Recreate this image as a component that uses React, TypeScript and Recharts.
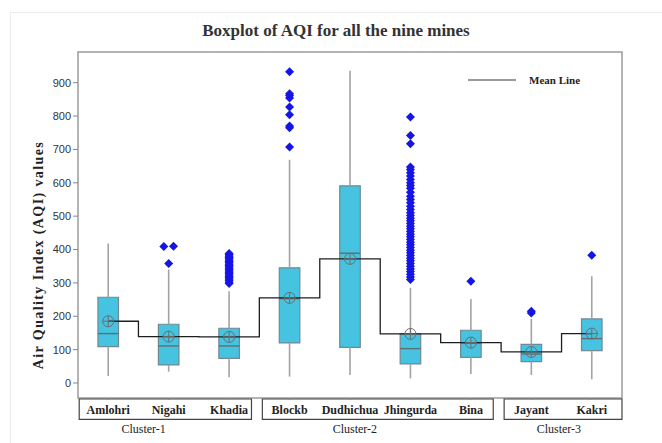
import React from 'react';
import {
  ComposedChart, XAxis, YAxis, Line, Scatter, ReferenceArea, ReferenceLine, Label,
} from 'recharts';

const mines = ['Amlohri', 'Nigahi', 'Khadia', 'Blockb', 'Dudhichua', 'Jhingurda', 'Bina', 'Jayant', 'Kakri'];
const whiskerLow = [21, 34, 17, 19, 24, 14, 27, 24, 11];
const q1 = [109, 54, 74, 120, 107, 57, 77, 64, 97];
const median = [148, 111, 111, 253, 389, 103, 120, 87, 133];
const q3 = [257, 176, 164, 345, 591, 148, 158, 116, 192];
const whiskerHigh = [418, 340, 275, 669, 936, 285, 252, 192, 320];
const meanAqi = [185, 139, 138, 255, 372, 147, 121, 93, 148];

// outliers per mine (same order as mines)
const outliers: number[][] = [
  [],
  [358, 409, 410],
  [298, 303, 308, 312, 316, 320, 324, 328, 332, 336, 340, 344, 348, 352, 356, 360, 364, 368, 372, 376, 380, 384, 388],
  [707, 765, 770, 804, 827, 854, 862, 867, 933],
  [],
  [310, 318, 326, 334, 342, 350, 358, 366, 374, 382, 390, 398, 406, 414, 422, 430, 438, 446, 454, 462, 470,
    478, 486, 494, 502, 510, 520, 530, 540, 550, 560, 572, 584, 592, 600, 610, 620, 630, 640, 647, 717, 742, 797],
  [305],
  [210, 215],
  [383],
];

const clusters = [
  { name: 'Cluster-1', start: 0, end: 3 },
  { name: 'Cluster-2', start: 3, end: 7 },
  { name: 'Cluster-3', start: 7, end: 9 },
];

const yTicks = [0, 100, 200, 300, 400, 500, 600, 700, 800, 900];

const SERIF = '"Liberation Serif", "Times New Roman", serif';
const SANS = '"Liberation Sans", Arial, sans-serif';
const HALF = 0.17;
const BOX_FILL = '#45c3e0';
const BOX_STROKE = '#6f8a94';
const WHISKER = '#a3a3a3';

const xPos = mines.map((_, i) => i + 0.5);
const meanRows = mines.map((m, i) => ({ x: xPos[i], y: meanAqi[i], name: m }));
const outlierRows = outliers.flatMap((vals, i) =>
  vals.map((v, k) => {
    // dodge near-duplicate values sideways
    const dup = vals.findIndex((w, j) => j !== k && Math.abs(w - v) < 3);
    const dx = dup < 0 ? 0 : (k < dup ? -0.08 : 0.08);
    return { x: xPos[i] + dx, y: v };
  })
);
// label centre shifts for the cluster captions (x units)
const clusterLabelShift = [-0.36, -0.38, -0.07];

const MeanMarker = (props: any) => {
  const { cx, cy } = props;
  if (cx == null || cy == null) return null;
  const r = 5.5;
  return (
    <g stroke="#6e6e6e" strokeWidth={1} fill="none">
      <circle cx={cx} cy={cy} r={r} />
      <line x1={cx - r} y1={cy} x2={cx + r} y2={cy} />
      <line x1={cx} y1={cy - r} x2={cx} y2={cy + r} />
    </g>
  );
};

const Diamond = (props: any) => {
  const { cx, cy } = props;
  if (cx == null || cy == null) return null;
  const s = 4.5;
  return <polygon points={`${cx},${cy - s} ${cx + s},${cy} ${cx},${cy + s} ${cx - s},${cy}`} fill="#1515e6" />;
};

const App: React.FC = () => {
  return (
    <div style={{ position: 'absolute', left: 0, top: 0, width: 662, height: 443, background: '#fff', overflow: 'hidden' }}>
      <div style={{ position: 'absolute', left: 10, top: 12, width: 700, height: 500, borderTop: '1.5px solid #ececec', borderLeft: '1.5px solid #ececec' }} />
      <div style={{ position: 'absolute', left: 0, top: 21, width: 672, textAlign: 'center', fontFamily: SERIF, fontWeight: 700, fontSize: 17, color: '#333' }}>
        Boxplot of AQI for all the nine mines
      </div>
      <ComposedChart width={662} height={443} margin={{ top: 52, right: 40, bottom: 0, left: 38 }} style={{ position: 'absolute', left: 0, top: 0 }}>
        <XAxis
          type="number"
          dataKey="x"
          domain={[0, 9]}
          allowDataOverflow
          ticks={xPos}
          interval={0}
          tickFormatter={(v: number) => mines[Math.round(v - 0.5)]}
          height={45}
          axisLine={false}
          tickLine={{ stroke: '#888' }}
          tickSize={2}
          tickMargin={5}
          tick={{ fontFamily: SERIF, fontWeight: 700, fontSize: 12, fill: '#222' }}
        />
        <YAxis
          type="number"
          domain={[-45, 992]}
          allowDataOverflow
          ticks={yTicks}
          width={40}
          axisLine={false}
          tickLine={{ stroke: '#888' }}
          tickSize={5}
          tickMargin={2}
          tick={{ fontFamily: SANS, fontSize: 11, fill: '#333' }}
        >
          <Label
            content={(p: any) => {
              const vb = p.viewBox || {};
              const cx = vb.x;
              const cy = vb.y + vb.height / 2 + 30;
              return (
                <text x={cx} y={cy} transform={`rotate(-90 ${cx} ${cy})`} textAnchor="middle" dominantBaseline="central"
                  style={{ fontFamily: SERIF, fontWeight: 700, fontSize: 14, letterSpacing: 1.4, fill: '#222' }}>
                  Air Quality Index (AQI) values
                </text>
              );
            }}
          />
        </YAxis>

        {/* plot frame */}
        <ReferenceArea x1={0} x2={9} y1={-45} y2={992} fill="none" stroke="#9c9c9c" strokeWidth={1.5} ifOverflow="visible" />

        {/* cluster boxes under the axis */}
        {clusters.map((c, i) => (
          <ReferenceArea
            key={c.name}
            x1={c.start === 0 ? 0.02 : c.start + 0.05}
            x2={c.end === mines.length ? mines.length : c.end - 0.13}
            y1={-48}
            y2={-109}
            fill="none"
            stroke="#444"
            strokeWidth={1.2}
            ifOverflow="visible"
            label={{ value: c.name, position: 'bottom', offset: 5, dx: clusterLabelShift[i] * 60.4, style: { fontFamily: SERIF, fontSize: 12, fill: '#222' } } as any}
          />
        ))}

        {/* whiskers */}
        {mines.map((m, i) => (
          <ReferenceLine key={`wl-${m}`} segment={[{ x: xPos[i], y: whiskerLow[i] }, { x: xPos[i], y: q1[i] }]} stroke={WHISKER} strokeWidth={1.6} ifOverflow="visible" />
        ))}
        {mines.map((m, i) => (
          <ReferenceLine key={`wh-${m}`} segment={[{ x: xPos[i], y: q3[i] }, { x: xPos[i], y: whiskerHigh[i] }]} stroke={WHISKER} strokeWidth={1.6} ifOverflow="visible" />
        ))}

        {/* boxes */}
        {mines.map((m, i) => (
          <ReferenceArea key={`box-${m}`} x1={xPos[i] - HALF} x2={xPos[i] + HALF} y1={q1[i]} y2={q3[i]} fill={BOX_FILL} fillOpacity={1} stroke={BOX_STROKE} strokeWidth={1.2} ifOverflow="visible" />
        ))}

        {/* medians */}
        {mines.map((m, i) => (
          <ReferenceLine key={`med-${m}`} segment={[{ x: xPos[i] - HALF, y: median[i] }, { x: xPos[i] + HALF, y: median[i] }]} stroke="#5f6f75" strokeWidth={1.4} ifOverflow="visible" />
        ))}

        <Line data={meanRows} dataKey="y" name="Mean Line" type="step" stroke="#1e1e1e" strokeWidth={1.3} dot={false} activeDot={false} isAnimationActive={false} />
        <Scatter data={outlierRows} dataKey="y" shape={<Diamond />} isAnimationActive={false} />
        <Scatter data={meanRows} dataKey="y" shape={<MeanMarker />} isAnimationActive={false} />
      </ComposedChart>
      <div style={{ position: 'absolute', left: 468, top: 74, display: 'flex', alignItems: 'center' }}>
        <svg width={48} height={4} style={{ display: 'block' }}>
          <line x1={0} y1={2} x2={48} y2={2} stroke="#777" strokeWidth={1.5} />
        </svg>
        <span style={{ marginLeft: 13, fontFamily: SERIF, fontWeight: 700, fontSize: 11, color: '#222', lineHeight: '12px' }}>Mean Line</span>
      </div>
    </div>
  );
};

export default App;
